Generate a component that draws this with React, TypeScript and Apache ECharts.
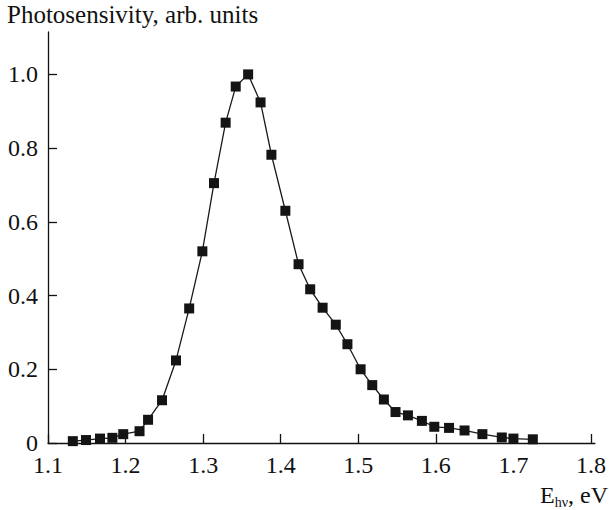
import React, { useEffect, useRef } from "react";
import * as echarts from "echarts";

const energy = [
  1.132, 1.149, 1.167, 1.183, 1.197, 1.218, 1.229, 1.247, 1.265, 1.282, 1.299,
  1.314, 1.329, 1.342, 1.358, 1.374, 1.388, 1.406, 1.423, 1.438, 1.454, 1.471,
  1.486, 1.503, 1.518, 1.533, 1.548, 1.564, 1.582, 1.598, 1.617, 1.637, 1.66,
  1.685, 1.7, 1.725,
];
const sensitivity = [
  0.005, 0.008, 0.012, 0.014, 0.024, 0.032, 0.063, 0.116, 0.224, 0.365, 0.52,
  0.705, 0.869, 0.967, 1.0, 0.924, 0.782, 0.63, 0.485, 0.417, 0.367, 0.321,
  0.268, 0.2, 0.157, 0.118, 0.084, 0.075, 0.06, 0.044, 0.041, 0.034, 0.024,
  0.015, 0.012, 0.01,
];
const xTicks = [1.1, 1.2, 1.3, 1.4, 1.5, 1.6, 1.7, 1.8];
const yTicks = [0, 0.2, 0.4, 0.6, 0.8, 1.0];

const FONT = "Liberation Serif";

export default function App() {
  const ref = useRef<HTMLDivElement>(null);
  useEffect(() => {
    if (!ref.current) return;
    const chart = echarts.init(ref.current, null, { renderer: "svg" });
    const data = energy.map((x, i) => [x, sensitivity[i]]);
    chart.setOption({
      animation: false,
      backgroundColor: "#ffffff",
      textStyle: { fontFamily: FONT },
      grid: { left: 48, right: 11, top: 32, bottom: 67 },
      xAxis: {
        type: "value",
        min: 1.1,
        max: 1.805,
        splitLine: { show: false },
        axisLine: { lineStyle: { color: "#111", width: 1.3 } },
        axisTick: {
          inside: true,
          length: 9,
          customValues: xTicks,
          lineStyle: { color: "#111", width: 1.3 },
        },
        axisLabel: {
          customValues: xTicks,
          formatter: (v: number) => v.toFixed(1),
          fontFamily: FONT,
          fontSize: 24,
          color: "#111",
          margin: 10,
        },
      },
      yAxis: {
        type: "value",
        min: 0,
        max: 1.115,
        splitLine: { show: false },
        axisLine: { show: true, lineStyle: { color: "#111", width: 1.3 } },
        axisTick: {
          show: true,
          inside: true,
          length: 9,
          customValues: yTicks,
          lineStyle: { color: "#111", width: 1.3 },
        },
        axisLabel: {
          customValues: yTicks,
          formatter: (v: number) => (v === 0 ? "0" : v.toFixed(1)),
          fontFamily: FONT,
          fontSize: 24,
          color: "#111",
          margin: 10,
        },
      },
      graphic: [
        {
          type: "text",
          left: 7,
          top: 2,
          style: {
            text: "Photosensivity, arb. units",
            fontFamily: FONT,
            fontSize: 25,
            fill: "#111",
          },
        },
        {
          type: "text",
          right: 1,
          top: 483,
          style: {
            text: "{a|E}{b|hν}{a|, eV}",
            fill: "#111",
            rich: {
              a: { fontFamily: FONT, fontSize: 24, color: "#111", verticalAlign: "bottom" },
              b: { fontFamily: FONT, fontSize: 14, color: "#111", verticalAlign: "bottom", padding: [0, 0, -2, 0] },
            },
          },
        },
      ],
      series: [
        {
          type: "line",
          data,
          symbol: "rect",
          symbolSize: 10,
          itemStyle: { color: "#141414" },
          lineStyle: { color: "#1a1a1a", width: 1.3 },
        },
      ],
    });
    return () => chart.dispose();
  }, []);
  return (
    <div
      ref={ref}
      style={{ position: "absolute", left: 0, top: 0, width: 609, height: 510 }}
    />
  );
}
